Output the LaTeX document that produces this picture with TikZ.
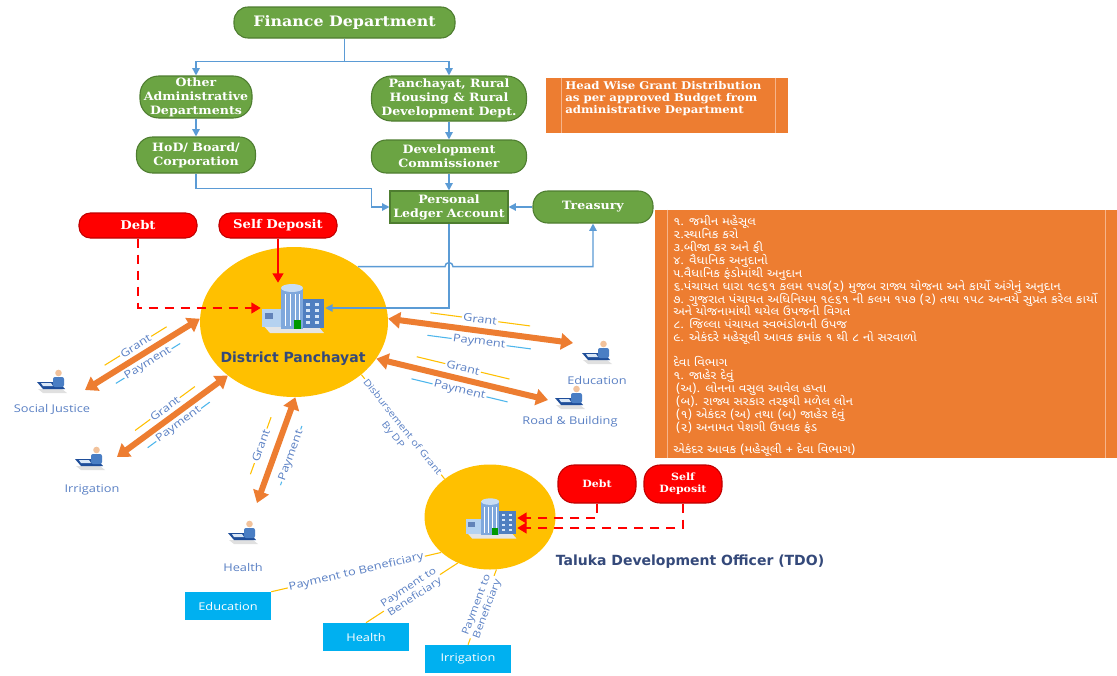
\documentclass[tikz,border=0pt]{standalone}
\usepackage{fontspec}
\setmainfont{DejaVu Serif}
\newfontfamily\bserif[FakeStretch=1.1]{DejaVu Serif}
\newfontfamily\lsans[FakeStretch=1.2]{Open Sans}
\newfontfamily\hsans{DejaVu Sans}
\newfontfamily\guj[Script=Gujarati,FakeStretch=1.15]{Noto Sans Gujarati UI}
\newcommand\gujfont{\guj\fontsize{8.5}{9.7}\selectfont\lineskiplimit=-1000pt\relax}
\usetikzlibrary{arrows.meta,calc,shapes.geometric}
\definecolor{cGfill}{HTML}{6BA443}
\definecolor{cGdraw}{HTML}{4E7D30}
\definecolor{cRdraw}{HTML}{C00000}
\definecolor{cOr}{HTML}{ED7D31}
\definecolor{cOrLine}{HTML}{F6B48A}
\definecolor{cYel}{HTML}{FFC000}
\definecolor{cBl}{HTML}{5B9BD5}
\definecolor{cLbl}{HTML}{5A80C4}
\definecolor{cPl}{HTML}{4DB6EC}
\definecolor{cSky}{HTML}{00B0F0}
\definecolor{cDp}{HTML}{34497A}
\definecolor{cB1}{HTML}{7FA8DC}
\definecolor{cB2}{HTML}{4F7FC0}
\definecolor{cB3}{HTML}{B5D2F0}
\definecolor{cB4}{HTML}{D6E6F7}
\definecolor{cB5}{HTML}{C9DDF3}
\definecolor{cW1}{HTML}{1F4E9A}
\definecolor{cW2}{HTML}{4A7EC4}
\definecolor{cW3}{HTML}{D9E7F7}
\definecolor{cSkin}{HTML}{F2C29B}
\tikzset{
  building/.pic={
    \fill[black!10] (-30,17) -- (24,17) -- (31,25) -- (-23,25) -- cycle;
    \fill[cB3] (-31,1) rectangle (-12,19);
    \fill[cW1!70] (-28,5) rectangle (-20,11);
    \fill[cB2] (9,-9) rectangle (31,20);
    \foreach \yy in {-5,1,7,13} {\fill[cB4] (13,\yy) rectangle (17,\yy+3); \fill[cB4] (22,\yy) rectangle (26,\yy+3);}
    \fill[cB1] (-12,-20) rectangle (10,21);
    \fill[cB5] (-1,-20) ellipse (11 and 4);
    \foreach \xx in {-8,-3,2,6} {\draw[white,line width=0.6pt] (\xx,-14) -- (\xx,18);}
    \fill[green!60!black] (1,12) rectangle (8,21);
  },
  worker/.pic={
    \fill[black!12] (-14,8) -- (10,8) -- (15,12) -- (-9,12) -- cycle;
    \fill[cW1] (-15,1) -- (7,1) -- (13,8) -- (-9,8) -- cycle;
    \fill[cW3] (-11,2) -- (-1,2) -- (1,5) -- (-9,5) -- cycle;
    \fill[cW2, rounded corners=1.5pt] (1,-4) rectangle (12,6);
    \fill[cSkin] (6.5,-8) circle (3.3);
  },
  pill/.style={draw=cGdraw, fill=cGfill, line width=0.8pt, text=white, align=center, inner sep=0pt,
    font=\bserif\bfseries\fontsize{8.6}{10.5}\selectfont},
  rpill/.style={draw=cRdraw, fill=red, line width=0.8pt, text=white, align=center, inner sep=0pt,
    font=\bserif\bfseries\fontsize{9}{10}\selectfont},
  obox/.style={fill=cOr, inner sep=0pt},
  iconbox/.style={inner sep=0pt},
  bl/.style={draw=cBl, line width=1.1pt, -{Triangle[length=5.5pt,width=5.5pt]}},
  rdash/.style={draw=red, line width=1.6pt, dash pattern=on 7pt off 5pt, -{Triangle[length=7pt,width=8pt]}},
  rsolid/.style={draw=red, line width=1.6pt, -{Triangle[length=7pt,width=8pt]}},
  oar/.style={draw=cOr, line width=4.5pt, {Triangle[length=9pt,width=12pt]}-{Triangle[length=9pt,width=12pt]}},
  glinec/.style={draw=cYel, line width=0.8pt},
  plinec/.style={draw=cPl, line width=0.8pt},
  yl/.style={draw=cYel, line width=0.8pt},
  lblnode/.style={fill=white, inner sep=1pt, text=cLbl, font=\lsans\fontsize{8}{9}\selectfont},
  lbltext/.style={inner sep=1pt, text=cLbl, font=\lsans\fontsize{7}{8}\selectfont},
  ilabel/.style={inner sep=1pt, text=cLbl, font=\lsans\fontsize{8}{9}\selectfont},
  dplabel/.style={inner sep=0pt, text=cDp, font=\hsans\bfseries\fontsize{10.5}{12}\selectfont},
  sbox/.style={fill=cSky, text=white, minimum width=64.5pt, minimum height=21pt, inner sep=0pt,
    font=\lsans\fontsize{8}{9}\selectfont},
}
\newcommand\gplab[4]{%
  \draw[glinec] ($(#1)!0.22!(#2)!#3!90:(#2)$) -- ($(#1)!0.76!(#2)!#3!90:(#2)$)
     node[midway, sloped, lblnode] (#4g) {Grant};
  \draw[plinec] ($(#1)!0.22!(#2)!#3!-90:(#2)$) -- ($(#1)!0.78!(#2)!#3!-90:(#2)$)
     node[midway, sloped, lblnode] (#4p) {Payment};
}
\begin{document}
\begin{tikzpicture}[x=0.75pt,y=-0.75pt]
\useasboundingbox (0,0) rectangle (1117,675);
\fill[white] (0,0) rectangle (1117,675);

% ---------- top hierarchy ----------
\node[pill, minimum width=165.75pt, minimum height=23.25pt, rounded corners=10.5pt,
      font=\bserif\bfseries\fontsize{10.8}{12}\selectfont] (fin) at (344.5,22.5) {Finance Department};
\node[pill, minimum width=84pt, minimum height=31.5pt, rounded corners=14pt] (oad) at (196,97) {Other\\Administrative\\Departments};
\node[pill, minimum width=116.25pt, minimum height=33.75pt, rounded corners=15pt] (pan) at (449,98.5) {Panchayat, Rural\\Housing \& Rural\\Development Dept.};
\node[pill, minimum width=89.25pt, minimum height=27pt, rounded corners=12pt] (hod) at (196,155) {HoD/ Board/\\Corporation};
\node[pill, minimum width=116.25pt, minimum height=24.75pt, rounded corners=11pt] (dev) at (449,156.5) {Development\\Commissioner};
\node[pill, minimum width=88.5pt, minimum height=24pt] (pla) at (449,207) {Personal\\Ledger Account};
\node[pill, minimum width=90pt, minimum height=24pt, rounded corners=11pt] (tre) at (593,207) {Treasury};

\draw[bl] (fin.south) -- ++(0,23) coordinate (fsplit) -| (oad.north);
\draw[bl] (fsplit) -| (pan.north);
\draw[bl] (oad.south) -- (hod.north);
\draw[bl] (pan.south) -- (dev.north);
\draw[bl] (dev.south) -- (pla.north);
\draw[bl] (hod.south) -- ++(0,15) -| ([xshift=-13.5pt]pla.west) -- (pla.west);
\draw[bl] (tre.west) -- (pla.east);

% ---------- orange info boxes ----------
\node[obox, minimum width=181.5pt, minimum height=41.25pt] (hw) at (667,105.5) {};
\draw[cOrLine, line width=0.6pt] ([xshift=12pt]hw.north west) -- ([xshift=12pt]hw.south west);
\draw[cOrLine, line width=0.6pt] ([xshift=-9.75pt]hw.north east) -- ([xshift=-9.75pt]hw.south east);
\node[anchor=west, align=left, inner sep=0pt, text=white, font=\bserif\bfseries\fontsize{8}{8.8}\selectfont] (hwt) at (565,98.5)
  {Head Wise Grant Distribution\\as per approved Budget from\\administrative Department};

\node[obox, minimum width=356.25pt, minimum height=186pt] (gb) at (892.5,334) {};
\draw[cOrLine, line width=0.6pt] ([xshift=9.75pt]gb.north west) -- ([xshift=9.75pt]gb.south west);
\draw[cOrLine, line width=0.6pt] (1105,210) -- (1105,458);
\node[anchor=north west, align=left, inner sep=0pt, text=white, font=\gujfont] (gujt) at (673,215) {%
૧. જમીન મહેસૂલ\\
૨.સ્થાનિક કરો\\
૩.બીજા કર અને ફી\\
૪. વૈધાનિક અનુદાનો\\
૫.વૈધાનિક ફંડોમાંથી અનુદાન\\
૬.પંચાયત ધારા ૧૯૬૧ કલમ ૧૫૭(૨) મુજબ રાજ્ય યોજના અને કાર્યો અંગેનું અનુદાન\\
૭. ગુજરાત પંચાયત અધિનિયમ ૧૯૬૧ ની કલમ ૧૫૭ (૨) તથા ૧૫૮ અન્વયે સુપ્રત કરેલ કાર્યો\\
અને યોજનામાંથી થયેલ ઉપજની વિગત\\
૮. જિલ્લા પંચાયત સ્વભંડોળની ઉપજ\\
૯. એકંદરે મહેસૂલી આવક ક્રમાંક ૧ થી ૮ નો સરવાળો\\[9pt]
દેવા વિભાગ\\
૧. જાહેર દેવું\\
\hspace{2pt}(અ). લોનના વસુલ આવેલ હપ્તા\\
\hspace{2pt}(બ). રાજ્ય સરકાર તરફથી મળેલ લોન\\
\hspace{2pt}(૧) એકંદર (અ) તથા (બ) જાહેર દેવું\\
\hspace{2pt}(૨) અનામત પેશગી ઉપલક ફંડ\\[6.5pt]
એકંદર આવક (મહેસૂલી + દેવા વિભાગ)};

% ---------- circles ----------
\node[ellipse, fill=cYel, minimum width=141pt, minimum height=112.5pt, inner sep=0pt] (dp) at (294,322) {};
\node[ellipse, fill=cYel, minimum width=98.25pt, minimum height=78.75pt, inner sep=0pt] (tdo) at (490,517) {};
\node[iconbox, minimum width=48pt, minimum height=37.5pt] (dpicon) at (293,308) {};
\pic at (dpicon) {building};
\node[iconbox, minimum width=39pt, minimum height=32pt] (tdoicon) at (491,518) {};
\pic[scale=0.82] at (tdoicon) {building};
\node[dplabel] (dplbl) at (293,359) {District Panchayat};
\node[dplabel] (tdolbl) at (690,562) {Taluka Development Officer (TDO)};

% ---------- blue lines into DP ----------
\draw[bl] (pla.south) |- (dpicon.east);
\coordinate (hop) at (445,0);
\draw[bl] (dp.41) -- (dp.41 -| hop) arc[start angle=180, end angle=0, radius=3pt] -| (tre.south);

% ---------- red pills ----------
\node[rpill, minimum width=88.5pt, minimum height=18.75pt, rounded corners=8.5pt] (debt1) at (138,225.5) {Debt};
\node[rpill, minimum width=88.5pt, minimum height=18.75pt, rounded corners=8.5pt] (sd1) at (278,225.5) {Self Deposit};
\node[rpill, minimum width=58.5pt, minimum height=28.5pt, rounded corners=12pt, font=\bserif\bfseries\fontsize{7.5}{9}\selectfont] (debt2) at (597,484) {Debt};
\node[rpill, minimum width=58.5pt, minimum height=28.5pt, rounded corners=12pt, font=\bserif\bfseries\fontsize{7.5}{9}\selectfont] (sd2) at (683,484) {Self\\Deposit};
\draw[rdash] (debt1.south) |- (dpicon.west);
\draw[rsolid] (sd1.south) -- (sd1.south |- dpicon.north);
\draw[rdash] (debt2.south) |- (tdoicon.east);
\draw[rdash] (sd2.south) |- ([yshift=-7.5pt]tdoicon.east);

% ---------- workers ----------
\node[iconbox, minimum width=22pt, minimum height=17pt] (sj) at (52,381) {};
\pic at (sj) {worker};
\node[ilabel] (sjl) at (52,409) {Social Justice};
\node[iconbox, minimum width=22pt, minimum height=17pt] (irr) at (90,458) {};
\pic at (irr) {worker};
\node[ilabel] (irrl) at (92,490) {Irrigation};
\node[iconbox, minimum width=22pt, minimum height=17pt] (hea) at (243,532) {};
\pic at (hea) {worker};
\node[ilabel] (heal) at (243,567) {Health};
\node[iconbox, minimum width=22pt, minimum height=17pt] (edu) at (597,352) {};
\pic at (edu) {worker};
\node[ilabel] (edul) at (597,380) {Education};
\node[iconbox, minimum width=22pt, minimum height=17pt] (rb) at (570,397) {};
\pic at (rb) {worker};
\node[ilabel] (rbl) at (570,422) {Road \& Building};

% ---------- orange grant/payment arrows ----------
\coordinate (sjA) at (85,390);
\coordinate (irA) at (117,457);
\coordinate (heA) at (257,503);
\coordinate (edA) at (573,343);
\coordinate (rbA) at (548,400);
\draw[oar] (sjA) -- (dp.178);
\draw[oar] (irA) -- (dp.219);
\draw[oar] (heA) -- (dp.271);
\draw[oar] (dp.2) -- (edA);
\draw[oar] (dp.-24) -- (rbA);
\gplab{sjA}{dp.178}{8pt}{sj}
\gplab{irA}{dp.219}{8pt}{ir}
\gplab{heA}{dp.271}{12pt}{he}
\gplab{dp.2}{edA}{8.5pt}{ed}
\gplab{dp.-24}{rbA}{8.5pt}{rb}

% ---------- TDO and beneficiaries ----------
\draw[yl] (dp.-38) -- (tdo.140) node[midway, sloped, lblnode, font=\lsans\fontsize{7}{8}\selectfont] (disb) {Disbursement of Grant};
\node[lbltext, rotate=-52] (bydp) at ($(disb.center)!10pt!-90:(tdo.140)$) {By DP};

\node[sbox] (ebox) at (228,606) {Education};
\node[sbox] (hbox) at (366,637) {Health};
\node[sbox] (ibox) at (468,659) {Irrigation};
\draw[yl] (ebox.north east) -- (tdo.216) node[midway, sloped, lblnode] (pb1) {Payment to Beneficiary};
\draw[yl] (hbox.north) -- (tdo.235) node[midway, sloped, lblnode, align=center, font=\lsans\fontsize{7.5}{8.5}\selectfont] (pb2) {Payment to\\Beneficiary};
\draw[yl] (ibox.north) -- (tdo.277) node[midway, sloped, lblnode, align=center, font=\lsans\fontsize{7.5}{8.5}\selectfont] (pb3) {Payment to\\Beneficiary};
\end{tikzpicture}
\end{document}
